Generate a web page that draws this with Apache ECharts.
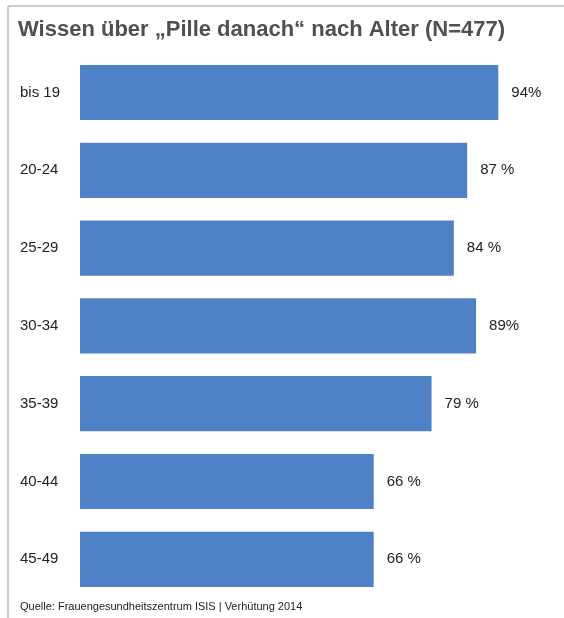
<!DOCTYPE html>
<html><head><meta charset="utf-8">
<script src="https://cdn.jsdelivr.net/npm/echarts@6/dist/echarts.min.js"></script>
<style>html,body{margin:0;padding:0;background:#fff}#c{width:564px;height:618px}</style>
</head><body><div id="c"></div>
<script>
const categories = ["bis 19","20-24","25-29","30-34","35-39","40-44","45-49"];
const values = [94,87,84,89,79,66,66];
const valueLabels = ["94%","87 %","84 %","89%","79 %","66 %","66 %"];
const titleText = "Wissen über „Pille danach“ nach Alter (N=477)";
const sourceText = "Quelle: Frauengesundheitszentrum ISIS | Verhütung 2014";

const chart = echarts.init(document.getElementById('c'), null, {renderer:'canvas'});
chart.setOption({
  animation:false,
  backgroundColor:'#fff',
  title:{text:titleText,left:13,top:14,textStyle:{fontFamily:'Liberation Sans, Arial, sans-serif',fontSize:22,fontWeight:'bold',color:'#505050'}},
  graphic:[
    {type:'line',shape:{x1:8,y1:6,x2:564,y2:6},style:{stroke:'#cccccc',lineWidth:2}},
    {type:'line',shape:{x1:8,y1:6,x2:8,y2:618},style:{stroke:'#cccccc',lineWidth:2}},
    {type:'text',left:20,top:601,style:{text:sourceText,fontFamily:'Liberation Sans, Arial, sans-serif',fontSize:11,fill:'#222'}}
  ],
  grid:{left:80,width:445,top:53.6,height:544.6,containLabel:false},
  xAxis:{type:'value',min:0,max:100,show:false},
  yAxis:{type:'category',data:categories,inverse:true,axisLine:{show:false},axisTick:{show:false},
    axisLabel:{align:'left',margin:60,fontFamily:'Liberation Sans, Arial, sans-serif',fontSize:15,color:'#222'}},
  series:[{type:'bar',data:values,barCategoryGap:'29%',itemStyle:{color:'#4f81c6'},
    label:{show:true,position:'right',distance:13,fontFamily:'Liberation Sans, Arial, sans-serif',fontSize:15,color:'#222',
      formatter:p=>valueLabels[p.dataIndex]}}]
});
</script></body></html>
